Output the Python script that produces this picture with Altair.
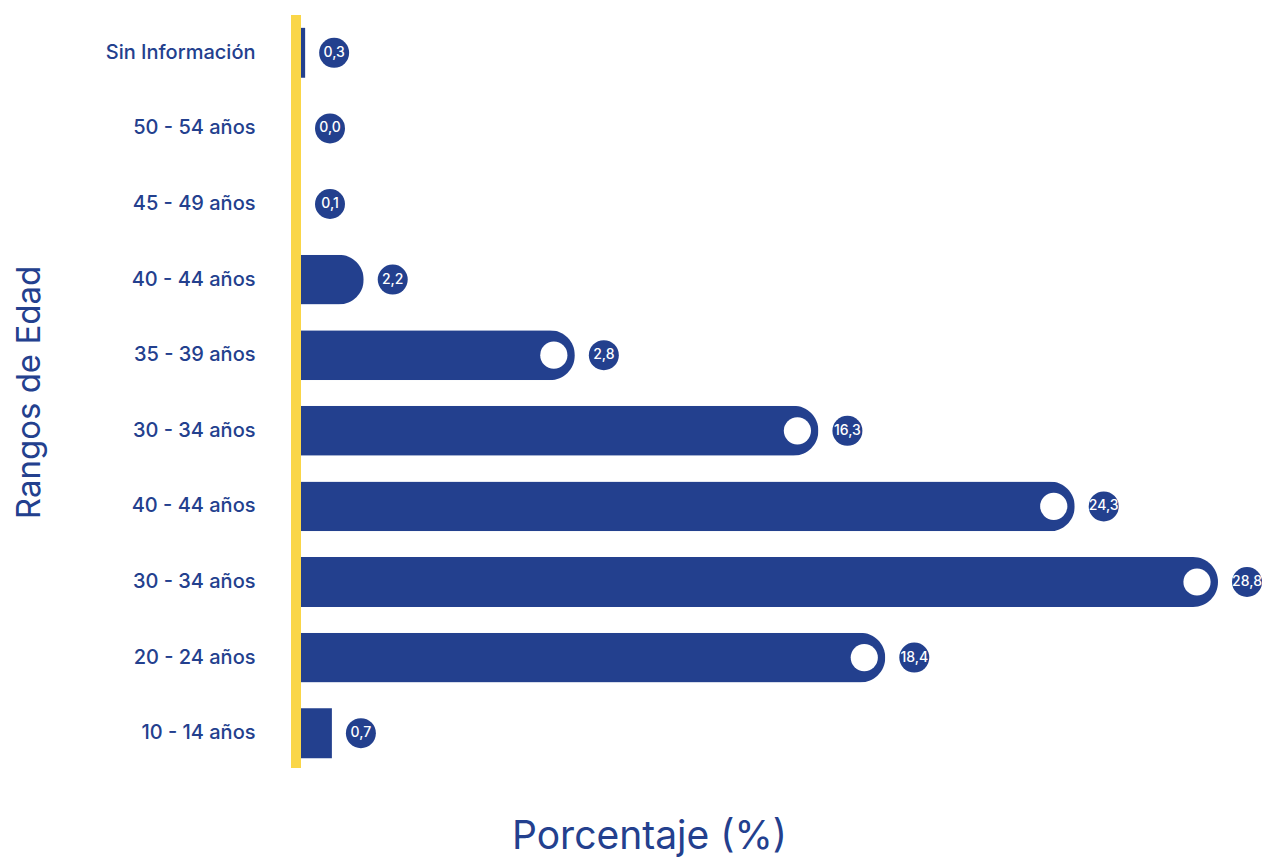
import json
import altair as alt
import pandas as pd

categories = ["Sin Información", "50 - 54 años", "45 - 49 años", "40 - 44 años",
              "35 - 39 años", "30 - 34 años", "40 - 44 años", "30 - 34 años",
              "20 - 24 años", "10 - 14 años"]
bar_values = [0.13, 0.0, 0.0, 1.97, 8.6, 16.25, 24.3, 28.8, 18.35, 0.97]
value_labels = ["0,3", "0,0", "0,1", "2,2", "2,8", "16,3", "24,3", "28,8", "18,4", "0,7"]

df = pd.DataFrame({
    "idx": list(range(len(categories))),
    "cat": categories,
    "value": bar_values,
    "label": value_labels,
})

BLUE = "#23408E"
YELLOW = "#FAD648"
FONT = "Inter"

label_expr = json.dumps(categories, ensure_ascii=False) + "[datum.value]"

y_enc = alt.Y(
    "idx:O",
    scale=alt.Scale(paddingInner=0.34, paddingOuter=0.17),
    axis=alt.Axis(
        labelExpr=label_expr, ticks=False, domain=False, grid=False,
        labelPadding=46, labelFontSize=20, labelFontWeight=500, labelColor=BLUE,
        labelFont=FONT, title="Rangos de Edad", titleFontSize=33,
        titleFontWeight="normal", titleColor=BLUE, titleFont=FONT,
        titleX=-272, titleY=377, titleAngle=-90, titleAlign="center",
        titleBaseline="middle",
    ),
)
x_enc = alt.X(
    "value:Q",
    scale=alt.Scale(domain=[0, 30.15], nice=False),
    axis=alt.Axis(
        labels=False, ticks=False, domain=False, grid=False,
        title="Porcentaje (%)", titleFontSize=39, titleFontWeight="normal",
        titleColor=BLUE, titleFont=FONT, titleX=348, titleY=77,
        titleAlign="center", titleBaseline="alphabetic",
    ),
)

base = alt.Chart(df).encode(x=x_enc, y=y_enc)

rule = alt.Chart(pd.DataFrame({"a": [0]})).mark_rule(
    color=YELLOW, strokeWidth=10
).encode(x=alt.value(-5), y=alt.value(0), y2=alt.value(753))

bars_round = base.mark_bar(color=BLUE, cornerRadiusEnd=25).transform_filter("datum.value >= 1.5")
bars_flat = base.mark_bar(color=BLUE).transform_filter("datum.value < 1.5")
dots = base.mark_circle(color="white", size=740, opacity=1, xOffset=-21).transform_filter("datum.value > 5")
badges = base.mark_circle(color=BLUE, size=900, opacity=1, xOffset=29)
texts = base.mark_text(color="white", fontSize=14, fontWeight=500, font=FONT, xOffset=29).encode(text="label:N")

chart = alt.layer(rule, bars_round, bars_flat, dots, badges, texts).properties(
    width=960, height=756,
    autosize=alt.AutoSizeParams(type="none"),
    padding={"left": 293, "top": 7, "right": 1, "bottom": 88},
).configure_view(stroke=None)

chart.save("out.html", embed_options={"renderer": "svg", "actions": False})
